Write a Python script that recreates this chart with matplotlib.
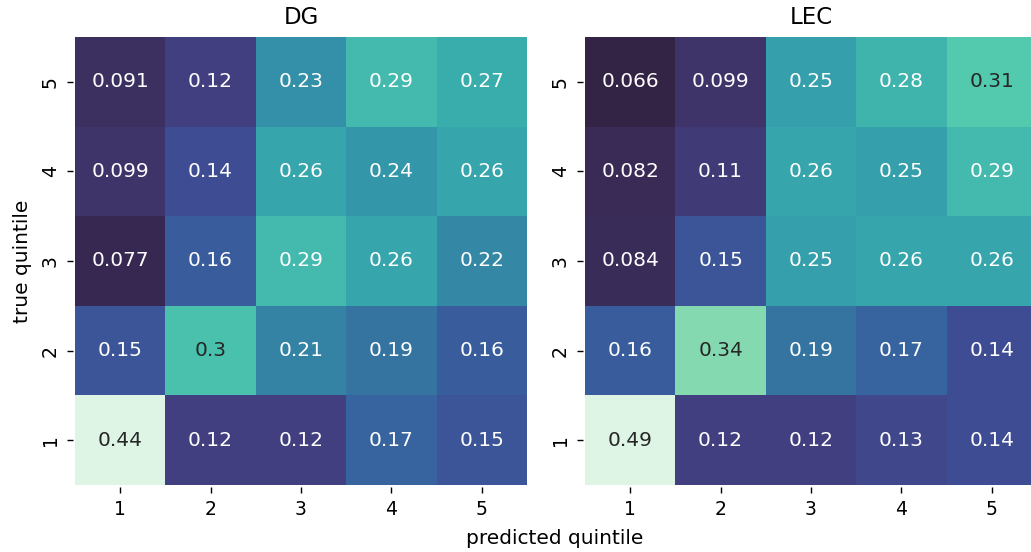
import numpy as np
import matplotlib
matplotlib.use("Agg")
import matplotlib.pyplot as plt
import seaborn as sns

quintiles = [1, 2, 3, 4, 5]
row_labels = [5, 4, 3, 2, 1]  # top to bottom

# rows: true quintile 5 (top) .. 1 (bottom); columns: predicted 1..5
dg = [
    [0.091, 0.12, 0.23, 0.29, 0.27],
    [0.099, 0.14, 0.26, 0.24, 0.26],
    [0.077, 0.16, 0.29, 0.26, 0.22],
    [0.15, 0.30, 0.21, 0.19, 0.16],
    [0.44, 0.12, 0.12, 0.17, 0.15],
]
lec = [
    [0.066, 0.099, 0.25, 0.28, 0.31],
    [0.082, 0.11, 0.26, 0.25, 0.29],
    [0.084, 0.15, 0.25, 0.26, 0.26],
    [0.16, 0.34, 0.19, 0.17, 0.14],
    [0.49, 0.12, 0.12, 0.13, 0.14],
]
titles = ["DG", "LEC"]

fig = plt.figure(figsize=(10.31, 5.52), dpi=100)
ax1 = fig.add_axes([0.0727, 0.1214, 0.4384, 0.8116])
ax2 = fig.add_axes([0.5674, 0.1214, 0.4384, 0.8116])

for ax, mat, title in zip([ax1, ax2], [dg, lec], titles):
    sns.heatmap(np.array(mat), ax=ax, cmap="mako", vmin=0, vmax=0.4,
                annot=True, cbar=False, annot_kws={"fontsize": 14.5},
                xticklabels=quintiles, yticklabels=row_labels)
    ax.set_title(title, fontsize=16.5, pad=9)
    ax.tick_params(labelsize=13.5, length=4.5, width=1.0, pad=5)
    ax.spines['bottom'].set_position(('outward', 1.5))
    ax.spines['left'].set_position(('outward', 1.5))
    plt.setp(ax.get_yticklabels(), rotation=90, va="center")

ax1.set_ylabel("true quintile", fontsize=14.5, labelpad=6)
fig.text(0.538, 0.008, "predicted quintile", ha="center", va="bottom", fontsize=14.5)

fig.savefig("out.png", dpi=100)
